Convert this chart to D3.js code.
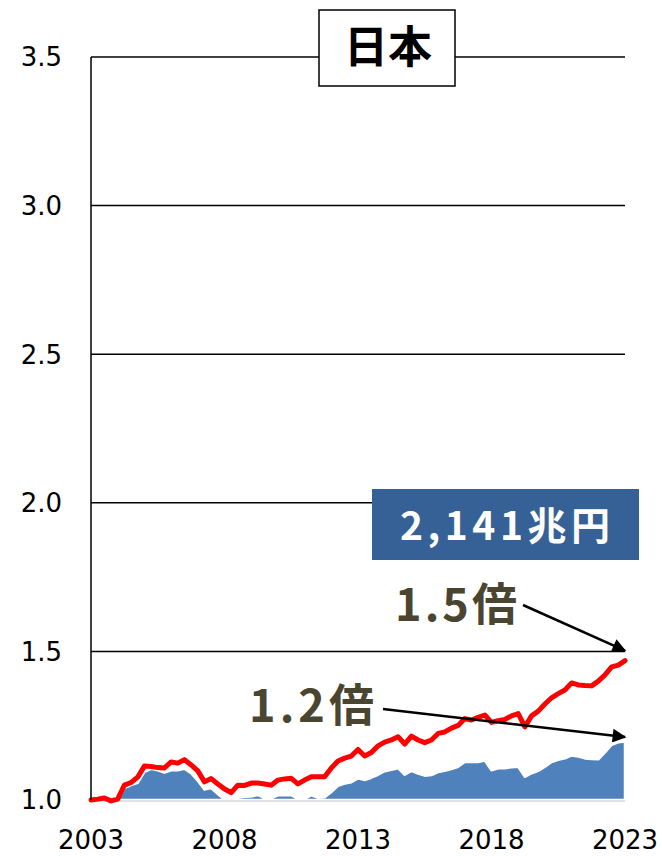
<!DOCTYPE html>
<html>
<head>
<meta charset="utf-8">
<script src="https://cdn.jsdelivr.net/npm/d3@7"></script>
<style>
  body { margin: 0; background: #fff; }
  svg { display: block; }
</style>
</head>
<body>
<div class="chart"></div>
<script>
// quarterly index, 2003 = 1.0
const startYear = 2003;
const redSeries = [
  1.000, 1.003, 1.007, 0.997, 1.003, 1.050, 1.059, 1.077, 1.114, 1.113,
  1.109, 1.108, 1.128, 1.124, 1.136, 1.118, 1.098, 1.061, 1.072, 1.054,
  1.037, 1.025, 1.050, 1.049, 1.057, 1.057, 1.054, 1.050, 1.067, 1.071,
  1.073, 1.054, 1.067, 1.078, 1.078, 1.078, 1.108, 1.131, 1.141, 1.148,
  1.170, 1.148, 1.160, 1.182, 1.195, 1.202, 1.213, 1.188, 1.215, 1.202,
  1.193, 1.202, 1.224, 1.229, 1.242, 1.251, 1.274, 1.269, 1.278, 1.286,
  1.261, 1.267, 1.271, 1.283, 1.291, 1.246, 1.283, 1.299, 1.323, 1.344,
  1.358, 1.370, 1.394, 1.387, 1.385, 1.384, 1.400, 1.421, 1.448, 1.454,
  1.469
];
const blueSeries = [
  1.000, 0.998, 1.000, 0.996, 1.000, 1.040, 1.050, 1.058, 1.095, 1.105,
  1.100, 1.092, 1.100, 1.100, 1.105, 1.090, 1.065, 1.035, 1.040, 1.020,
  1.002, 0.990, 1.008, 1.011, 1.012, 1.017, 1.006, 1.006, 1.016, 1.017,
  1.016, 1.004, 1.004, 1.016, 1.008, 1.009, 1.027, 1.048, 1.055, 1.060,
  1.073, 1.067, 1.075, 1.085, 1.097, 1.102, 1.107, 1.085, 1.098, 1.089,
  1.082, 1.084, 1.094, 1.098, 1.104, 1.112, 1.128, 1.128, 1.128, 1.133,
  1.100, 1.107, 1.107, 1.110, 1.112, 1.078, 1.090, 1.098, 1.112, 1.128,
  1.135, 1.140, 1.150, 1.146, 1.140, 1.138, 1.137, 1.160, 1.186, 1.194,
  1.197
];
const yTicks = [1.0, 1.5, 2.0, 2.5, 3.0, 3.5];
const xTicks = [2003, 2008, 2013, 2018, 2023];
const title = "日本";
const totalLabel = "2,141兆円";
const redLabel = "1.5倍";
const blueLabel = "1.2倍";

(function() {
  const w = 662, h = 856;
  const plotL = 91, plotR = 625, plotT = 57, plotB = 800;

  const svg = d3.select(".chart").append("svg")
    .attr("width", w)
    .attr("height", h);

  const x = d3.scaleLinear().domain([2003, 2023]).range([plotL, plotR]);
  const y = d3.scaleLinear().domain([1.0, 3.5]).range([plotB, plotT]);

  const red = redSeries.map((v, i) => ({t: startYear + i / 4, v}));
  const blue = blueSeries.map((v, i) => ({t: startYear + i / 4, v}));

  const defs = svg.append("defs");
  defs.append("clipPath").attr("id", "plot")
    .append("rect")
    .attr("x", plotL - 2).attr("y", plotT - 10)
    .attr("width", plotR - plotL + 6).attr("height", plotB - plotT + 10);

  const marker = defs.append("marker")
    .attr("id", "arrow")
    .attr("viewBox", "0 0 10 10")
    .attr("refX", 9).attr("refY", 5)
    .attr("markerWidth", 6).attr("markerHeight", 5.5)
    .attr("markerUnits", "strokeWidth")
    .attr("orient", "auto");
  marker.append("path").attr("d", "M0,0 L10,5 L0,10 z").attr("fill", "#000");

  // gridlines
  svg.append("g")
    .selectAll("line")
    .data(yTicks.filter(d => d > 1))
    .enter().append("line")
      .attr("x1", plotL).attr("x2", plotR)
      .attr("y1", d => y(d)).attr("y2", d => y(d))
      .attr("stroke", "#000")
      .attr("stroke-width", 1.5);

  // blue area (below 1.0 is clipped away)
  const area = d3.area()
    .x(d => x(d.t))
    .y0(y(1.0))
    .y1(d => y(d.v));

  svg.append("g").attr("clip-path", "url(#plot)")
    .append("path")
    .attr("d", area(blue))
    .attr("fill", "#4f81bd")
    .attr("stroke", "#fff")
    .attr("stroke-width", 2.5)
    .attr("stroke-linejoin", "round");

  svg.append("line")
    .attr("x1", plotL).attr("x2", plotR)
    .attr("y1", plotB + 1).attr("y2", plotB + 1)
    .attr("stroke", "#d9d9d9")
    .attr("stroke-width", 1.5);

  // red line
  const line = d3.line()
    .x(d => x(d.t))
    .y(d => y(d.v));

  svg.append("path")
    .attr("d", line(red))
    .attr("fill", "none")
    .attr("stroke", "#ff0000")
    .attr("stroke-width", 5)
    .attr("stroke-linejoin", "round")
    .attr("stroke-linecap", "round");

  // left axis
  svg.append("line")
    .attr("x1", plotL).attr("x2", plotL)
    .attr("y1", plotT).attr("y2", plotB)
    .attr("stroke", "#000")
    .attr("stroke-width", 1.5);

  // tick labels
  svg.append("g")
    .selectAll("text")
    .data(yTicks)
    .enter().append("text")
      .text(d => d.toFixed(1))
      .attr("x", 62)
      .attr("y", d => y(d))
      .attr("dy", "0.36em")
      .attr("text-anchor", "end")
      .attr("font-family", "DejaVu Sans, Verdana, sans-serif")
      .attr("font-size", "26px")
      .attr("fill", "#000");

  svg.append("g")
    .selectAll("text")
    .data(xTicks)
    .enter().append("text")
      .text(d => d)
      .attr("x", d => x(d))
      .attr("y", 849)
      .attr("text-anchor", "middle")
      .attr("font-family", "DejaVu Sans, Verdana, sans-serif")
      .attr("font-size", "26px")
      .attr("fill", "#000");

  // title box
  svg.append("rect")
    .attr("x", 319).attr("y", 10)
    .attr("width", 136).attr("height", 76)
    .attr("fill", "#fff")
    .attr("stroke", "#000")
    .attr("stroke-width", 1.5);
  svg.append("text")
    .text(title)
    .attr("x", 388).attr("y", 47)
    .attr("dy", "0.36em")
    .attr("text-anchor", "middle")
    .attr("font-family", "Noto Sans CJK JP, sans-serif")
    .attr("font-weight", "bold")
    .attr("font-size", "44px")
    .attr("fill", "#000");

  // total label
  svg.append("rect")
    .attr("x", 372).attr("y", 489)
    .attr("width", 267).attr("height", 71)
    .attr("fill", "#366196");
  svg.append("text")
    .text(totalLabel)
    .attr("x", 400).attr("y", 526)
    .attr("dy", "0.36em")
    .attr("textLength", 210)
    .attr("lengthAdjust", "spacing")
    .attr("font-family", "Noto Sans CJK JP, sans-serif")
    .attr("font-weight", "bold")
    .attr("font-size", "39px")
    .attr("fill", "#fff");

  // ratio labels + arrows
  const ratioColor = "#4a4530";
  svg.append("text")
    .text(redLabel)
    .attr("x", 395).attr("y", 605)
    .attr("dy", "0.36em")
    .attr("textLength", 122)
    .attr("lengthAdjust", "spacing")
    .attr("font-family", "Noto Sans CJK JP, sans-serif")
    .attr("font-weight", "bold")
    .attr("font-size", "45px")
    .attr("fill", ratioColor);
  svg.append("line")
    .attr("x1", 523).attr("y1", 605)
    .attr("x2", x(2023)).attr("y2", y(redSeries[redSeries.length - 1]) - 10)
    .attr("stroke", "#000")
    .attr("stroke-width", 2.5)
    .attr("marker-end", "url(#arrow)");

  svg.append("text")
    .text(blueLabel)
    .attr("x", 249).attr("y", 706)
    .attr("dy", "0.36em")
    .attr("textLength", 125)
    .attr("lengthAdjust", "spacing")
    .attr("font-family", "Noto Sans CJK JP, sans-serif")
    .attr("font-weight", "bold")
    .attr("font-size", "45px")
    .attr("fill", ratioColor);
  svg.append("line")
    .attr("x1", 383).attr("y1", 709)
    .attr("x2", x(2023)).attr("y2", 737)
    .attr("stroke", "#000")
    .attr("stroke-width", 2.5)
    .attr("marker-end", "url(#arrow)");
})();
</script>
</body>
</html>
